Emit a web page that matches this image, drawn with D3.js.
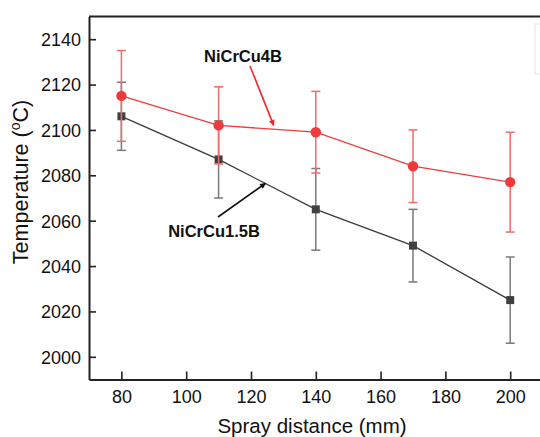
<!DOCTYPE html>
<html>
<head>
<meta charset="utf-8">
<script src="https://cdn.jsdelivr.net/npm/d3@7/dist/d3.min.js"></script>
<style>
  html, body { margin: 0; padding: 0; background: #fff; }
  svg { display: block; font-family: "Liberation Sans", Arial, sans-serif; }
</style>
</head>
<body>
<svg id="chart" width="540" height="437"></svg>
<script>
// Spray distance (mm)
const distances = [80, 110, 140, 170, 200];

// NiCrCu4B temperature (°C) and error bar half-widths
const tempNiCrCu4B = [2115, 2102, 2099, 2084, 2077];
const errNiCrCu4B  = [20, 17, 18, 16, 22];

// NiCrCu1.5B temperature (°C) and error bar half-widths
const tempNiCrCu15B = [2106, 2087, 2065, 2049, 2025];
const errNiCrCu15B  = [15, 17, 18, 16, 19];

const xTicks = [80, 100, 120, 140, 160, 180, 200];
const yTicks = [2000, 2020, 2040, 2060, 2080, 2100, 2120, 2140];

const series = [
  { name: "NiCrCu1.5B", values: tempNiCrCu15B, errs: errNiCrCu15B,
    line: "#3a3a3a", err: "#7a7a7a", fill: "#404040", symbol: "square" },
  { name: "NiCrCu4B", values: tempNiCrCu4B, errs: errNiCrCu4B,
    line: "#ef3b3b", err: "#f06a6a", fill: "#ee3a3a", symbol: "circle" }
];

const svg = d3.select("#chart");

const x = d3.scaleLinear().domain([70, 220]).range([89, 575]);
const y = d3.scaleLinear().domain([1990, 2150]).range([379.5, 16.5]);

// frame: top and right edges
svg.append("line")
  .attr("x1", x(70)).attr("x2", x(220))
  .attr("y1", y(2150)).attr("y2", y(2150))
  .attr("stroke", "#222").attr("stroke-width", 2);
svg.append("line")
  .attr("x1", x(220)).attr("x2", x(220))
  .attr("y1", y(2150)).attr("y2", y(1990))
  .attr("stroke", "#222").attr("stroke-width", 2);

// bottom axis, ticks pointing inward
const gx = svg.append("g")
  .attr("transform", `translate(0,${y(1990)})`)
  .call(d3.axisBottom(x).tickValues(xTicks).tickFormat(d3.format("d"))
    .tickSizeInner(-8).tickSizeOuter(0).tickPadding(11));

// left axis, ticks pointing inward
const gy = svg.append("g")
  .attr("transform", `translate(${x(70)},0)`)
  .call(d3.axisLeft(y).tickValues(yTicks).tickFormat(d3.format("d"))
    .tickSizeInner(-7).tickSizeOuter(0).tickPadding(8));

[gx, gy].forEach(g => {
  g.select(".domain").attr("stroke", "#222").attr("stroke-width", 2);
  g.selectAll(".tick line").attr("stroke", "#222").attr("stroke-width", 1.6);
  g.selectAll(".tick text")
    .attr("fill", "#111")
    .style("font-size", "18px")
    .style("font-family", "'Liberation Sans', Arial, sans-serif");
});
gy.selectAll(".tick text").attr("dy", "0.35em");

// axis titles
svg.append("text")
  .attr("x", 312).attr("y", 433)
  .attr("text-anchor", "middle")
  .attr("fill", "#111")
  .style("font-size", "20.5px")
  .text("Spray distance (mm)");

const yTitle = svg.append("text")
  .attr("transform", "translate(28,182) rotate(-90)")
  .attr("text-anchor", "middle")
  .attr("fill", "#111")
  .style("font-size", "21.5px");
yTitle.append("tspan").text("Temperature (");
yTitle.append("tspan").attr("baseline-shift", "super").style("font-size", "14px").text("o");
yTitle.append("tspan").text("C)");

// series: error bars, line, markers
const capHalf = 4.5;
series.forEach(s => {
  const g = svg.append("g");
  const pts = distances.map((d, i) => ({ d, v: s.values[i], e: s.errs[i] }));

  const eb = g.append("g").attr("stroke", s.err).attr("stroke-width", 1.5);
  pts.forEach(p => {
    eb.append("line")
      .attr("x1", x(p.d)).attr("x2", x(p.d))
      .attr("y1", y(p.v + p.e)).attr("y2", y(p.v - p.e));
    [p.v + p.e, p.v - p.e].forEach(c => {
      eb.append("line")
        .attr("x1", x(p.d) - capHalf).attr("x2", x(p.d) + capHalf)
        .attr("y1", y(c)).attr("y2", y(c));
    });
  });

  g.append("path")
    .datum(pts)
    .attr("fill", "none")
    .attr("stroke", s.line)
    .attr("stroke-width", 1.3)
    .attr("d", d3.line().x(p => x(p.d)).y(p => y(p.v)));

  const sym = d3.symbol()
    .type(s.symbol === "circle" ? d3.symbolCircle : d3.symbolSquare)
    .size(s.symbol === "circle" ? 85 : 64);
  g.selectAll("path.marker")
    .data(pts)
    .join("path")
    .attr("class", "marker")
    .attr("transform", p => `translate(${x(p.d)},${y(p.v)})`)
    .attr("d", sym)
    .attr("fill", s.fill);
});

// annotation labels with arrows
const defs = svg.append("defs");
function arrowHead(id, color) {
  defs.append("marker")
    .attr("id", id)
    .attr("viewBox", "0 0 10 10")
    .attr("refX", 9).attr("refY", 5)
    .attr("markerWidth", 7).attr("markerHeight", 6)
    .attr("markerUnits", "userSpaceOnUse")
    .attr("orient", "auto")
    .append("path")
    .attr("d", "M0,0 L10,5 L0,10 Z")
    .attr("fill", color);
}
arrowHead("arrRed", "#ee2a2a");
arrowHead("arrBlack", "#111");

svg.append("text")
  .attr("x", 243).attr("y", 61.5)
  .attr("text-anchor", "middle")
  .attr("fill", "#111")
  .style("font-size", "16.5px").style("font-weight", "bold")
  .text("NiCrCu4B");
svg.append("line")
  .attr("x1", 250).attr("y1", 66)
  .attr("x2", x(127)).attr("y2", y(2102))
  .attr("stroke", "#ee2a2a").attr("stroke-width", 1.6)
  .attr("marker-end", "url(#arrRed)");

svg.append("text")
  .attr("x", 214).attr("y", 237)
  .attr("text-anchor", "middle")
  .attr("fill", "#111")
  .style("font-size", "16.5px").style("font-weight", "bold")
  .text("NiCrCu1.5B");
svg.append("line")
  .attr("x1", 218).attr("y1", 217)
  .attr("x2", x(124.5)).attr("y2", y(2076.5))
  .attr("stroke", "#111").attr("stroke-width", 1.6)
  .attr("marker-end", "url(#arrBlack)");

// edge of the legend frame at the right side of the plot
svg.append("rect")
  .attr("x", 535).attr("y", 24)
  .attr("width", 120).attr("height", 50)
  .attr("fill", "#fff")
  .attr("stroke", "#e4e4e4").attr("stroke-width", 1);
</script>
</body>
</html>
